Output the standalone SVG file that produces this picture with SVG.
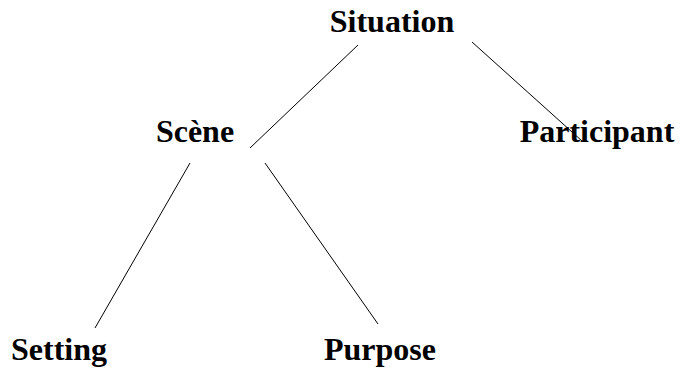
<svg xmlns="http://www.w3.org/2000/svg" width="680" height="371" viewBox="0 0 680 371">
<style>
text{font-family:"Liberation Serif","Times New Roman",serif;font-weight:bold;font-size:32px;fill:#000;text-anchor:middle}
line{stroke:#000;stroke-width:1}
</style>
<rect width="680" height="371" fill="#fff"/>
<g id="connectors">
<line x1="358" y1="45" x2="250" y2="148"/>
<line x1="472" y1="42" x2="582" y2="141"/>
<line x1="190" y1="163" x2="95" y2="328"/>
<line x1="265" y1="163" x2="378" y2="324"/>
</g>
<g id="situation"><text x="392" y="32">Situation</text></g>
<g id="scene"><text x="195" y="142">Scène</text></g>
<g id="participant"><text x="597" y="142">Participant</text></g>
<g id="setting"><text x="59" y="360">Setting</text></g>
<g id="purpose"><text x="380" y="360">Purpose</text></g>
</svg>
